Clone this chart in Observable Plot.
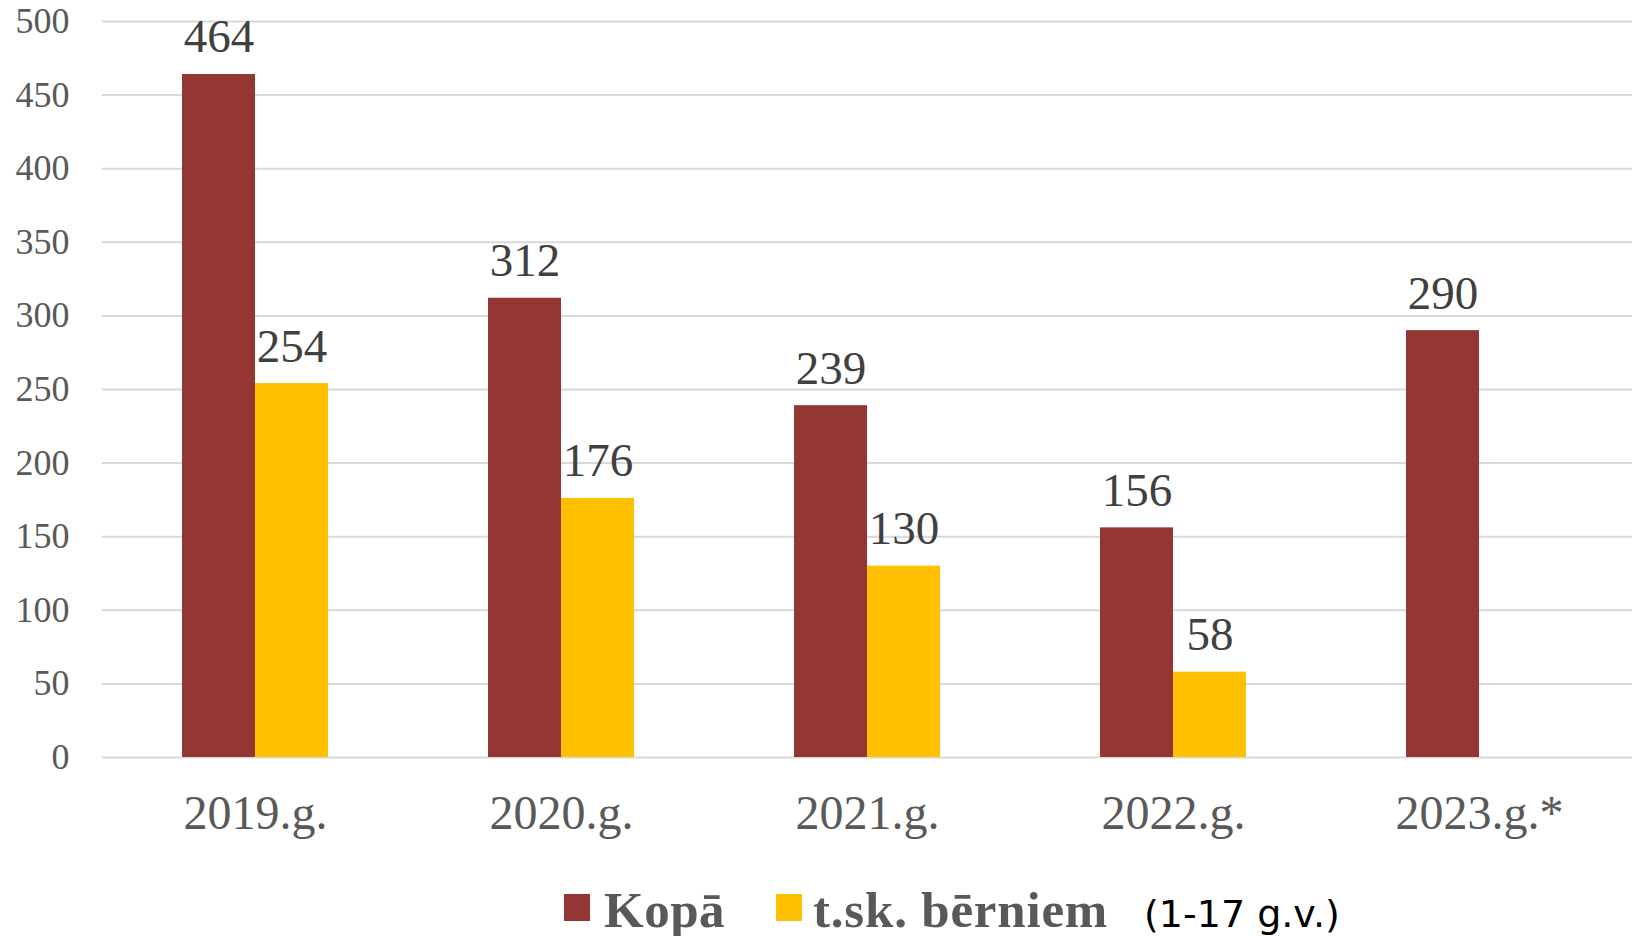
<!DOCTYPE html>
<html>
<head>
<meta charset="utf-8">
<script src="https://cdn.jsdelivr.net/npm/d3@7"></script>
<script src="https://cdn.jsdelivr.net/npm/@observablehq/plot@0.6"></script>
<style>
  body { margin: 0; background: #fff; }
  #chart svg { display: block; }
  #legend { position: relative; width: 1635px; height: 76px; }
  #legend .sw { position: absolute; width: 26px; height: 27px; top: 34px; }
  #legend .lt { position: absolute; white-space: nowrap; line-height: 1; }
</style>
</head>
<body>
<div id="chart"></div>
<div id="legend">
  <div class="sw" style="left:564px;background:#943634"></div>
  <div class="lt" style="left:604px;top:21px;font:bold 51px 'Liberation Serif';color:#595959;letter-spacing:0.5px">Kopā</div>
  <div class="sw" style="left:776px;background:#FFC000"></div>
  <div class="lt" style="left:813px;top:21px;font:bold 51px 'Liberation Serif';color:#595959;letter-spacing:0.8px">t.sk. bērniem</div>
  <div class="lt" style="left:1144px;top:32px;font:38px 'DejaVu Sans';color:#000">(1-17 g.v.)</div>
</div>
<script>
const years = ["2019.g.", "2020.g.", "2021.g.", "2022.g.", "2023.g.*"];
const seriesNames = ["Kopā", "t.sk. bērniem"];
const kopa = [464, 312, 239, 156, 290];
const berniem = [254, 176, 130, 58, null];
const yTicks = [0, 50, 100, 150, 200, 250, 300, 350, 400, 450, 500];
const colors = ["#943634", "#FFC000"];

const data = [];
years.forEach((yr, i) => {
  data.push({year: yr, series: seriesNames[0], value: kopa[i]});
  if (berniem[i] != null) data.push({year: yr, series: seriesNames[1], value: berniem[i]});
});

const chart = Plot.plot({
  width: 1635,
  height: 860,
  marginLeft: 101,
  marginRight: 3,
  marginTop: 21,
  marginBottom: 103,
  style: {fontFamily: "'Liberation Serif', serif", background: "#fff"},
  fx: {domain: years, padding: 0, label: null},
  x: {domain: seriesNames, paddingInner: 0, paddingOuter: 1.08, axis: null},
  y: {domain: [0, 500], label: null},
  color: {domain: seriesNames, range: colors},
  marks: [
    Plot.ruleY(yTicks, {stroke: "#d9d9d9", strokeWidth: 2}),
    Plot.barY(data, {fx: "year", x: "series", y: "value", fill: "series"}),
    Plot.text(data, {fx: "year", x: "series", y: "value", text: d => String(d.value),
      dy: -22, lineAnchor: "bottom", fontSize: 47, fill: "#404040"}),
    Plot.axisY({ticks: yTicks, tickSize: 0, tickPadding: 33, fontSize: 36, fill: "#595959", label: null}),
    Plot.axisFx({anchor: "bottom", tickSize: 0, tickPadding: 37, fontSize: 48, fill: "#595959", label: null})
  ]
});
document.getElementById("chart").appendChild(chart);
</script>
</body>
</html>
